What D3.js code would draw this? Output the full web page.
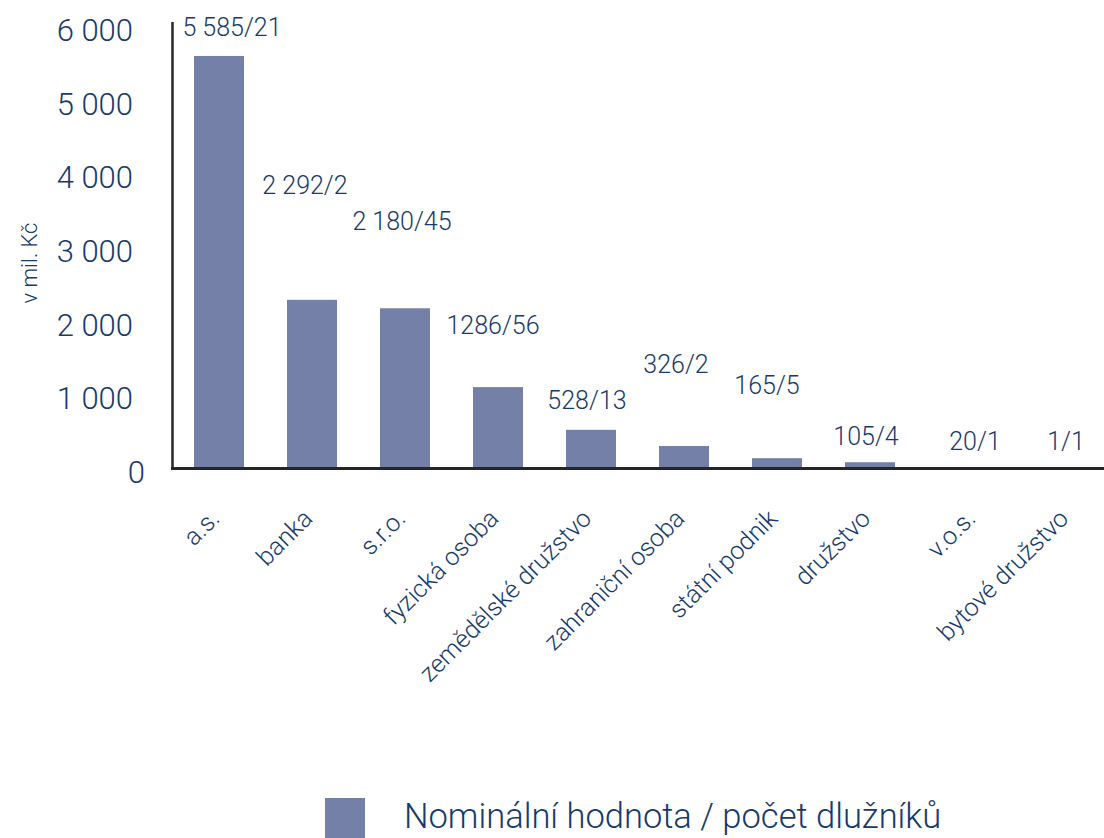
<!DOCTYPE html>
<html>
<head>
<meta charset="utf-8">
<script src="https://cdn.jsdelivr.net/npm/d3@7"></script>
<style>
  body { margin: 0; background: #fff; }
  svg text { font-family: Roboto, "Liberation Sans", Arial, sans-serif; font-weight: 300; fill: #173a6b; }
</style>
</head>
<body>
<svg id="chart" width="1104" height="838"></svg>
<script>
// categories and values (v mil. Kč)
var categories = ["a.s.", "banka", "s.r.o.", "fyzická osoba", "zemědělské družstvo",
                  "zahraniční osoba", "státní podnik", "družstvo", "v.o.s.", "bytové družstvo"];
// bar heights as drawn in the picture
var barValues = [5600, 2290, 2175, 1105, 525, 305, 140, 85, 20, 1];
// printed labels: nominal value / number of debtors
var valueLabels = ["5 585/21", "2 292/2", "2 180/45", "1286/56", "528/13",
                   "326/2", "165/5", "105/4", "20/1", "1/1"];
var yTicks = [0, 1000, 2000, 3000, 4000, 5000, 6000];
var legendText = "Nominální hodnota / počet dlužníků";

// hand placed label offsets (px) from the bar top centre
var labelDx = [13, -7, -3, -5, -4, -8, -10, -4, 12, 10];
var labelDy = [-20, -106, -78, -53, -21, -73, -64, -17, -17, -18];

var barColor = "#7480a8";
var axisColor = "#262626";

var svg = d3.select("#chart");

var cz = d3.formatLocale({decimal: ",", thousands: " ", grouping: [3], currency: ["", ""]});
var fmt = cz.format(",");

// scales
var x = d3.scaleBand()
    .domain(categories)
    .range([172.5, 1102.5])
    .paddingInner(0.46)
    .paddingOuter(0.23);
var y = d3.scaleLinear()
    .domain([0, 6000])
    .range([468.5, 26.5]);

function cx(d) { return x(d) + x.bandwidth() / 2; }

// bars
svg.append("g").selectAll("rect")
    .data(categories)
    .enter().append("rect")
    .attr("x", function (d) { return cx(d) - 25; })
    .attr("width", 50)
    .attr("y", function (d, i) { return y(barValues[i]); })
    .attr("height", function (d, i) { return y(0) - y(barValues[i]); })
    .attr("fill", barColor);

// y axis
var yAxis = svg.append("g")
    .attr("transform", "translate(172,0)")
    .call(d3.axisLeft(y).tickValues(yTicks).tickFormat(fmt).tickSize(0).tickPadding(39));
yAxis.select(".domain").remove();
yAxis.attr("font-family", null);
yAxis.selectAll("text")
    .attr("font-size", 31)
    .attr("dy", "0.45em")
    .attr("dx", function (d) { return d === 0 ? 12 : 0; });

// axis lines
svg.append("line")
    .attr("x1", 172.5).attr("x2", 172.5)
    .attr("y1", 22).attr("y2", 470)
    .attr("stroke", axisColor).attr("stroke-width", 2.5);
svg.append("line")
    .attr("x1", 171).attr("x2", 1104)
    .attr("y1", 468.5).attr("y2", 468.5)
    .attr("stroke", axisColor).attr("stroke-width", 3);

// y title
svg.append("text")
    .attr("transform", "translate(37,263) rotate(-90)")
    .attr("text-anchor", "middle")
    .attr("font-size", 22)
    .text("v mil. Kč");

// value labels
svg.append("g").selectAll("text")
    .data(categories)
    .enter().append("text")
    .attr("x", function (d, i) { return cx(d) + labelDx[i]; })
    .attr("y", function (d, i) { return y(barValues[i]) + labelDy[i]; })
    .attr("text-anchor", "middle")
    .attr("font-size", 25)
    .text(function (d, i) { return valueLabels[i]; });

// category labels, rotated
svg.append("g").selectAll("text")
    .data(categories)
    .enter().append("text")
    .attr("transform", function (d, i) {
        return "translate(" + (cx(d) + 2 + (i > 7 ? 12 : 0)) + ",520) rotate(-45)";
    })
    .attr("text-anchor", "end")
    .attr("font-size", 25)
    .text(function (d) { return d; });

// legend
svg.append("rect")
    .attr("x", 325).attr("y", 798)
    .attr("width", 40).attr("height", 40)
    .attr("fill", barColor);
svg.append("text")
    .attr("x", 404).attr("y", 828)
    .attr("font-size", 34.5)
    .text(legendText);
</script>
</body>
</html>
